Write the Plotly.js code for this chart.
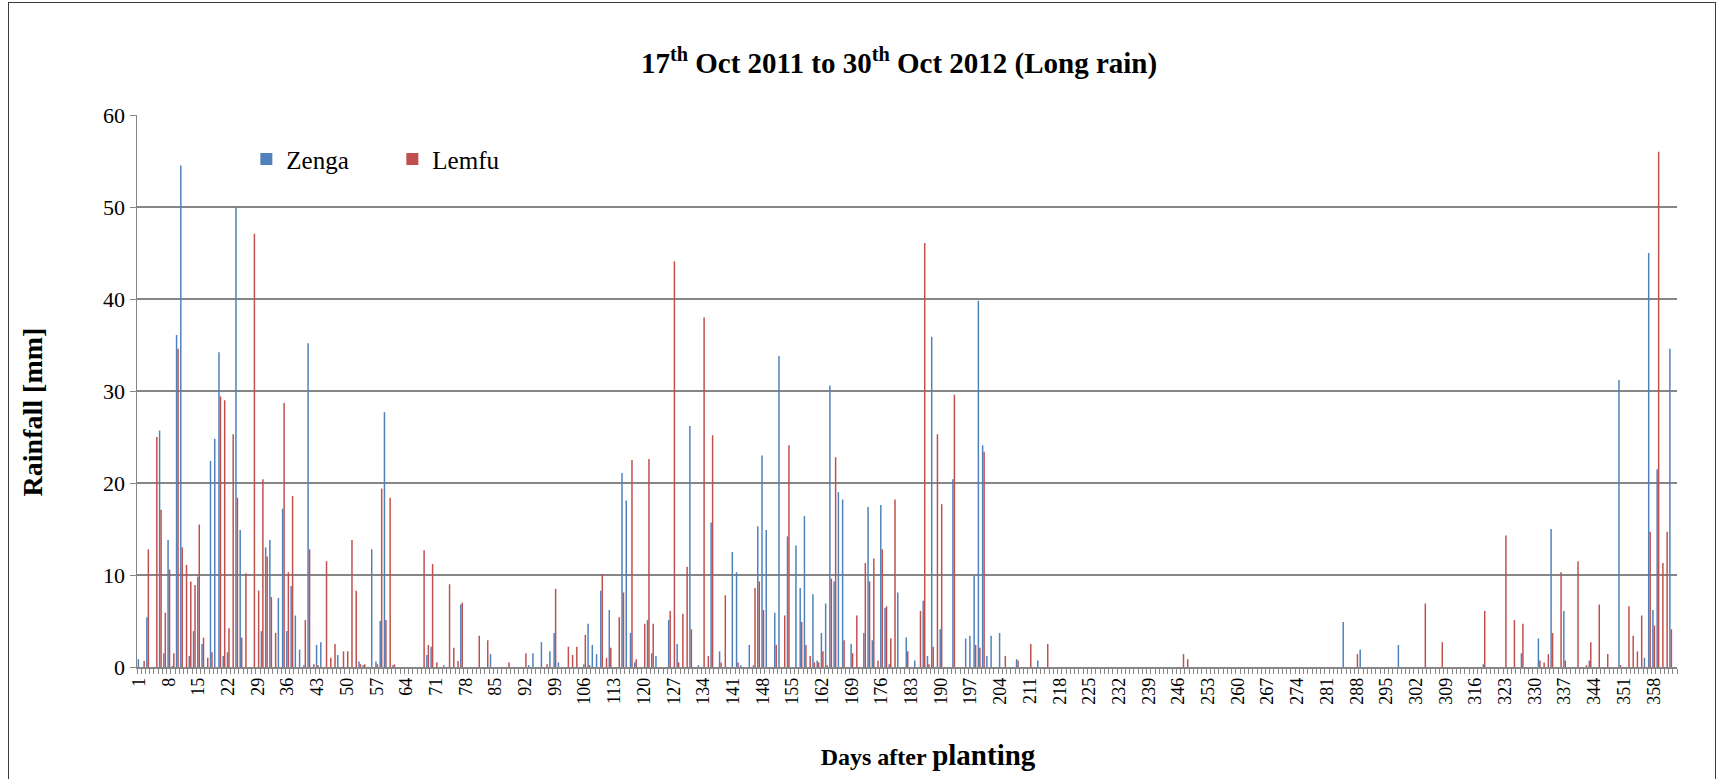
<!DOCTYPE html>
<html><head><meta charset="utf-8">
<script src="https://cdn.plot.ly/plotly-3.0.1.min.js"></script>
<style>
html,body{margin:0;padding:0;background:#fff;}
#chart{position:absolute;left:0;top:0;width:1724px;height:779px;}
#frame{position:absolute;left:8px;top:2px;width:1706px;height:820px;border:1.5px solid #3a3a3a;pointer-events:none;}
</style></head><body>
<div id="chart"></div><div id="frame"></div>
<script>
// Days after planting (categories 1..363) with rainfall (mm); days not listed had no rain
const zengaDay = [1,3,6,7,8,9,10,11,13,14,15,16,18,19,20,21,22,24,25,30,31,32,34,35,36,37,38,39,40,41,43,44,48,53,54,56,57,58,59,61,69,70,73,77,84,93,94,96,98,99,100,106,107,108,109,110,112,115,116,117,118,121,122,123,126,128,131,133,136,138,141,142,143,145,146,147,148,149,151,152,154,156,157,158,160,161,162,163,164,165,166,167,169,172,173,174,176,177,178,180,182,184,186,187,188,190,193,196,197,198,199,200,201,202,204,208,213,285,289,298,318,327,331,334,337,343,350,356,357,358,359,362];
const zengaMm = [0.85,5.4,25.7,1.5,13.8,0.1,36.1,54.5,1.2,3.9,9.8,2.5,22.4,24.8,34.2,1.2,1.6,50.0,14.9,3.9,13.0,13.8,7.5,17.2,3.9,8.8,5.6,1.9,0.2,35.2,2.4,2.7,1.3,0.6,0.2,12.8,0.6,5.0,27.7,0.2,1.3,2.2,0.2,6.8,1.4,0.2,1.5,2.7,1.7,3.7,0.5,0.3,4.7,2.4,1.4,8.3,6.2,21.1,18.1,3.7,0.5,5.1,1.5,1.2,5.1,2.5,26.2,0.2,15.7,1.7,12.5,10.3,0.2,2.4,0.2,15.3,23.0,14.9,5.9,33.8,14.2,13.2,8.6,16.4,7.9,0.7,3.7,6.9,30.6,9.3,19.0,18.2,2.5,3.7,17.4,2.9,17.6,6.4,0.3,8.1,3.2,0.7,7.2,1.2,35.9,4.1,20.4,3.1,3.4,9.9,39.8,24.1,1.2,3.4,3.7,0.85,0.7,4.9,1.9,2.4,0.3,1.5,3.1,15.0,6.1,0.7,31.2,1.0,45.0,6.2,21.5,34.6];

const lemfuDay = [2,3,5,6,7,8,9,10,11,12,13,14,15,16,17,18,20,21,22,23,24,25,26,28,29,30,31,32,33,35,36,37,40,41,42,43,45,46,47,49,50,51,52,53,54,57,58,59,60,61,68,69,70,71,74,75,76,77,81,83,88,92,97,99,102,103,104,106,107,110,111,112,114,115,117,118,120,121,122,126,127,128,129,130,131,134,135,136,138,139,142,146,147,148,151,153,154,157,158,159,160,161,162,163,164,165,167,169,170,172,173,174,175,176,177,178,179,182,185,186,187,188,189,190,193,198,199,200,205,208,211,215,247,248,288,304,308,318,323,325,327,331,332,333,334,336,337,340,342,343,345,347,350,352,353,354,355,357,358,359,360,361,362];
const lemfuMm = [0.65,12.8,25.0,17.1,5.9,10.6,1.5,34.6,13.0,11.1,9.3,8.9,15.5,3.2,1.0,1.6,29.4,29.0,4.2,25.3,18.4,3.2,10.2,47.1,8.3,20.4,12.0,7.6,3.7,28.7,10.3,18.6,5.1,12.8,0.3,0.2,11.5,1.0,2.5,1.7,1.7,13.8,8.3,0.3,0.3,0.3,19.4,5.1,18.4,0.3,12.7,2.4,11.2,0.5,9.0,2.1,0.65,7.0,3.4,2.9,0.5,1.5,0.3,8.5,2.2,1.3,2.2,3.5,0.2,10.1,1.0,2.1,5.4,8.1,22.5,0.85,4.7,22.6,4.7,6.1,44.1,0.5,5.8,10.9,4.1,38.0,1.2,25.2,0.5,7.8,0.5,8.6,9.3,6.2,2.4,5.6,24.1,4.9,2.4,1.2,0.5,0.5,1.7,0.2,9.6,22.8,2.9,1.5,5.6,11.3,9.3,11.8,0.7,12.8,6.6,3.1,18.2,1.7,6.1,46.1,0.3,2.2,25.3,17.7,29.6,2.4,2.1,23.4,1.2,0.7,2.5,2.5,1.4,0.85,1.4,6.9,2.7,6.1,14.3,5.1,4.7,0.7,0.5,1.4,3.7,10.3,0.7,11.5,0.2,2.7,6.8,1.4,0.2,6.6,3.4,1.7,5.6,14.7,4.5,56.0,11.3,14.7,4.1];

const tickDays = [1,8,15,22,29,36,43,50,57,64,71,78,85,92,99,106,113,120,127,134,141,148,155,162,169,176,183,190,197,204,211,218,225,232,239,246,253,260,267,274,281,288,295,302,309,316,323,330,337,344,351,358];
const firstDay = 1, lastDay = 363;

const serif = "'Liberation Serif', 'Times New Roman', serif";
const axisGray = '#868686';

const traces = [
  {type:'bar', name:'Zenga', x:zengaDay, y:zengaMm, marker:{color:'#4F81BD', line:{width:0}}},
  {type:'bar', name:'Lemfu', x:lemfuDay, y:lemfuMm, marker:{color:'#C0504D', line:{width:0}}}
];

const layout = {
  width:1724, height:779,
  paper_bgcolor:'#fff', plot_bgcolor:'#fff',
  margin:{l:137, r:47, t:115, b:112, autoexpand:false},
  barmode:'group', bargap:0.3, bargroupgap:0,
  title:{text:'17<sup>th</sup> Oct 2011 to 30<sup>th</sup> Oct 2012 (Long rain)',
         font:{family:serif, size:29, color:'#000', weight:700},
         x:0.5215, xref:'container', xanchor:'center', y:0.919, yref:'container', yanchor:'middle'},
  showlegend:true,
  legend:{orientation:'h', x:0.071, y:0.92, xanchor:'left', yanchor:'middle',
          font:{family:serif, size:25, color:'#000'}, bgcolor:'rgba(0,0,0,0)',
          entrywidth:101, entrywidthmode:'pixels', traceorder:'normal'},
  xaxis:{type:'linear', range:[firstDay-0.5, lastDay+0.5], autorange:false,
         tickmode:'array', tickvals:tickDays, ticktext:tickDays.map(String),
         tickangle:-90, ticks:'outside', ticklen:2, tickcolor:'rgba(0,0,0,0)',
         minor:{ticks:'outside', tickmode:'linear', tick0:0.5, dtick:1, ticklen:5, tickcolor:axisGray, tickwidth:1, showgrid:false},
         showgrid:false, zeroline:false, showline:true, linecolor:axisGray, linewidth:1.5,
         tickfont:{family:serif, size:18, color:'#000'},
         title:{text:'&nbsp;&nbsp;&nbsp;&nbsp;&nbsp;&nbsp;&nbsp;Days after <span style="font-size:29px">planting</span>',
                font:{family:serif, size:24, color:'#000', weight:700}, standoff:44}},
  yaxis:{range:[0,60], autorange:false, dtick:10, tick0:0,
         showgrid:true, gridcolor:axisGray, gridwidth:1.3, zeroline:false,
         showline:true, linecolor:axisGray, linewidth:1.5,
         ticks:'outside', ticklen:6, tickcolor:axisGray,
         tickfont:{family:serif, size:22, color:'#000'},
         title:{text:'Rainfall [mm]&nbsp;&nbsp;&nbsp;&nbsp;&nbsp;&nbsp;', font:{family:serif, size:28, color:'#000', weight:700}, standoff:52}}
};

Plotly.newPlot('chart', traces, layout, {displayModeBar:false, staticPlot:true});
</script>
</body></html>
